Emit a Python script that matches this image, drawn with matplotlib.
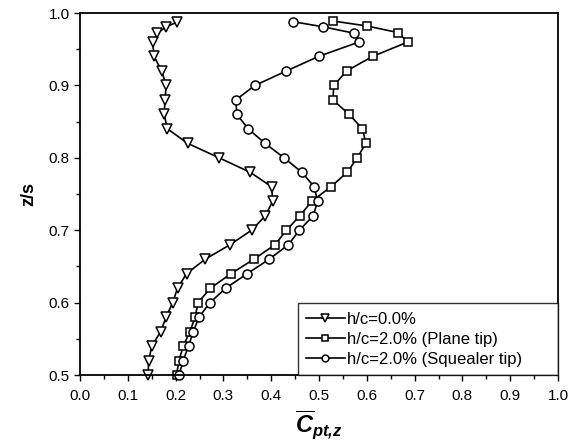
import matplotlib
matplotlib.use('Agg')
import matplotlib.pyplot as plt
from matplotlib.ticker import MultipleLocator

plt.rcParams['font.family'] = ['Liberation Sans', 'DejaVu Sans']
plt.rcParams['mathtext.fontset'] = 'custom'
plt.rcParams['mathtext.rm'] = 'Liberation Sans'
plt.rcParams['mathtext.it'] = 'Liberation Sans:italic'
plt.rcParams['mathtext.bf'] = 'Liberation Sans:bold:italic'

# h/c = 0.0%
z_flat = [0.50, 0.52, 0.54, 0.56, 0.58, 0.60, 0.62, 0.64, 0.66, 0.68, 0.70, 0.72,
          0.74, 0.76, 0.78, 0.80, 0.82, 0.84, 0.86, 0.88, 0.90, 0.92, 0.94, 0.96,
          0.972, 0.981, 0.987]
c_flat = [0.142, 0.144, 0.150, 0.169, 0.180, 0.194, 0.204, 0.223, 0.262, 0.314, 0.359, 0.388,
          0.403, 0.401, 0.356, 0.291, 0.225, 0.183, 0.176, 0.178, 0.180, 0.171, 0.155, 0.152,
          0.162, 0.180, 0.202]

# h/c = 2.0% plane tip
z_plane = [0.50, 0.52, 0.54, 0.56, 0.58, 0.60, 0.62, 0.64, 0.66, 0.68, 0.70, 0.72,
           0.74, 0.76, 0.78, 0.80, 0.82, 0.84, 0.86, 0.88, 0.90, 0.92, 0.94, 0.96,
           0.973, 0.982, 0.989]
c_plane = [0.202, 0.207, 0.216, 0.230, 0.241, 0.247, 0.273, 0.316, 0.364, 0.408, 0.432, 0.460,
           0.485, 0.525, 0.559, 0.580, 0.598, 0.591, 0.563, 0.529, 0.531, 0.558, 0.612, 0.686,
           0.665, 0.601, 0.529]

# h/c = 2.0% squealer tip
z_sq = [0.50, 0.52, 0.54, 0.56, 0.58, 0.60, 0.62, 0.64, 0.66, 0.68, 0.70, 0.72,
        0.74, 0.76, 0.78, 0.80, 0.82, 0.84, 0.86, 0.88, 0.90, 0.92, 0.94, 0.96,
        0.972, 0.981, 0.988]
c_sq = [0.207, 0.216, 0.227, 0.237, 0.249, 0.272, 0.305, 0.350, 0.396, 0.436, 0.459, 0.488,
        0.497, 0.490, 0.464, 0.427, 0.387, 0.352, 0.328, 0.326, 0.366, 0.432, 0.499, 0.584,
        0.574, 0.508, 0.446]

labels = ['h/c=0.0%', 'h/c=2.0% (Plane tip)', 'h/c=2.0% (Squealer tip)']

fig = plt.figure(figsize=(5.79, 4.48), dpi=100)
ax = fig.add_axes([80 / 579, 1 - 375 / 448, 478 / 579, 362 / 448])

style = dict(color='black', lw=1.2, mfc='white', mec='black', mew=1.1, clip_on=False)
ax.plot(c_flat, z_flat, marker='v', ms=7, label=labels[0], **style)
ax.plot(c_plane, z_plane, marker='s', ms=5.5, label=labels[1], **style)
ax.plot(c_sq, z_sq, marker='o', ms=6.5, label=labels[2], **style)

ax.set_xlim(0, 1.0)
ax.set_ylim(0.5, 1.0)
ax.xaxis.set_major_locator(MultipleLocator(0.1))
ax.xaxis.set_minor_locator(MultipleLocator(0.05))
ax.yaxis.set_major_locator(MultipleLocator(0.1))
ax.yaxis.set_minor_locator(MultipleLocator(0.05))
ax.xaxis.set_major_formatter(plt.FormatStrFormatter('%.1f'))
ax.yaxis.set_major_formatter(plt.FormatStrFormatter('%.1f'))
ax.tick_params(which='major', direction='out', length=4, width=1, labelsize=11)
ax.tick_params(axis='x', which='major', pad=6)
ax.tick_params(which='minor', direction='out', length=3, width=1)
for s in ax.spines.values():
    s.set_linewidth(1.3)

ax.set_ylabel('z/s', fontsize=13, fontweight='bold', labelpad=8)
ax.set_xlabel(r'$\overline{\mathbf{C}}_{\mathbf{pt{,}z}}$', fontsize=17, labelpad=4)

# legend box spans from x=0.456 to the right spine, sits on the bottom spine
leg = ax.legend(loc='lower left', bbox_to_anchor=(0.456, 0.0, 0.544, 0.2),
                mode='expand', fontsize=12, frameon=True, fancybox=False,
                edgecolor='black', borderaxespad=0, handlelength=2.3,
                handletextpad=0.15, labelspacing=0.3, borderpad=0.5,
                markerscale=0.75)
leg.get_frame().set_linewidth(1.0)

fig.savefig('out.png', dpi=100)
